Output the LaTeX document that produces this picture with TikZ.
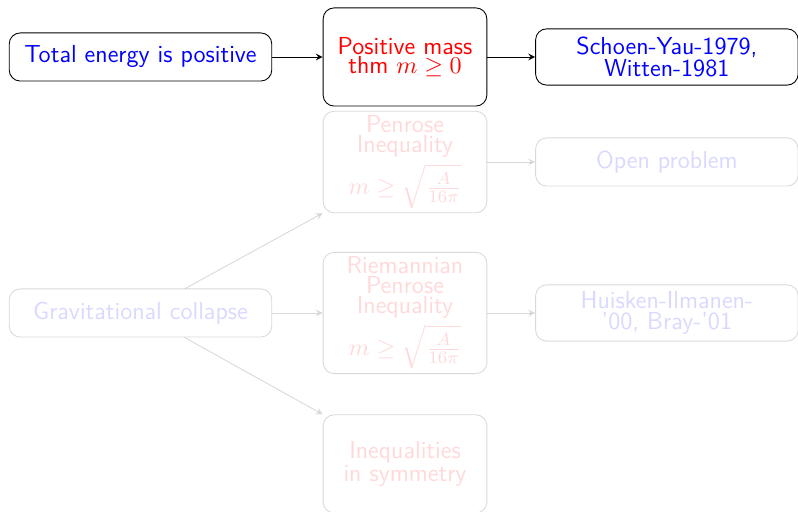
\documentclass[tikz,border=0pt]{standalone}
\usepackage{amsmath}

\tikzstyle{sS}=[rectangle,rounded corners=5pt,draw,minimum width=4.2cm,minimum height=0.77cm,inner sep=2pt,font=\fontsize{11.2}{10}\selectfont\sffamily,align=center]
\tikzstyle{mS}=[rectangle,rounded corners=5pt,draw,minimum width=2.62cm,minimum height=1.57cm,inner sep=2pt,font=\fontsize{11.2}{9}\selectfont\sffamily,align=center]
\tikzstyle{fade}=[opacity=0.15]
\tikzstyle{aS}=[->,>=stealth]

\begin{document}
\begin{tikzpicture}
    \useasboundingbox (0,0) rectangle (12.768,8.192);
    % top row
    \draw (2.248,7.28) node[sS,text=blue] (tot) {Total energy is positive};
    \draw (6.48,7.28) node[mS,text=red] (pmt) {Positive mass\\thm $m \geq 0$};
    \draw (10.67,7.28) node[sS,minimum height=0.9cm,text=blue] (sy) {Schoen-Yau-1979,\\Witten-1981};

    % faded part
    \draw (6.48,5.6) node[mS,fade,text=red] (pen) {Penrose\\Inequality\\[2pt]$m \geq \sqrt{\frac{A}{16\pi}}$};
    \draw (10.67,5.6) node[sS,fade,text=blue] (op) {Open problem};
    \draw (2.248,3.184) node[sS,fade,text=blue] (gc) {Gravitational collapse};
    \draw (6.48,3.184) node[mS,fade,text=red] (rpi) {Riemannian\\Penrose\\Inequality\\[2pt]$m \geq \sqrt{\frac{A}{16\pi}}$};
    \draw (10.67,3.184) node[sS,minimum height=0.9cm,fade,text=blue] (hi) {Huisken-Ilmanen-\\'00, Bray-'01};
    \draw (6.48,0.77) node[mS,fade,text=red] (sym) {Inequalities\\in symmetry};

    \path
        (tot) edge[aS] (pmt)
        (pmt) edge[aS] (sy)
    ;
    \path[fade]
        (pen) edge[aS] (op)
        (gc) edge[aS] (rpi)
        (rpi) edge[aS] (hi)
        (gc) edge[aS] (pen.south west)
        (gc) edge[aS] (sym.north west)
    ;
\end{tikzpicture}
\end{document}
